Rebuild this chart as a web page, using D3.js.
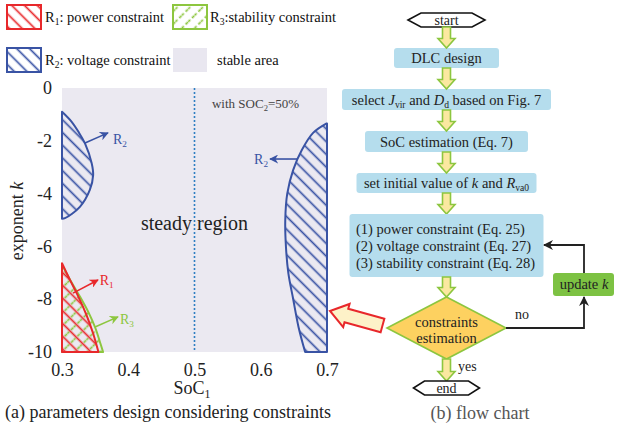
<!DOCTYPE html>
<head>
<meta charset="utf-8">
<title>Parameters design and flow chart</title>
<style>
  body { margin: 0; background: #fff; }
  text { font-family: "Liberation Serif", "Times New Roman", serif; }
</style>
<script src="https://d3js.org/d3.v7.min.js"></script>
</head>
<body>
<script>
// ---- data ----
var xTicks = [0.3, 0.4, 0.5, 0.6, 0.7];
var yTicks = [0, -2, -4, -6, -8, -10];

// region boundaries, [SoC1, k]
var r2LeftEdge = [[0.3, -0.9], [0.3146, -1.28], [0.3246, -1.65], [0.3347, -2.1], [0.3448, -2.85],
                  [0.347, -3.3], [0.342, -3.86], [0.327, -4.5], [0.3045, -4.93], [0.3, -4.95]];
var r2RightEdge = [[0.6995, -1.34], [0.679, -1.7], [0.662, -2.35], [0.649, -3.1], [0.640, -4.0],
                   [0.637, -5.0], [0.638, -6.0], [0.6416, -7.0], [0.649, -8.0], [0.657, -9.05], [0.667, -10]];
var r1Edge = [[0.3, -6.64], [0.312, -7.27], [0.3247, -7.9], [0.337, -8.6], [0.347, -9.3], [0.355, -10]];
var r3Edge = [[0.3, -6.7], [0.313, -7.3], [0.327, -7.9], [0.34, -8.5], [0.3505, -9.1], [0.357, -9.6], [0.362, -10]];

var regionNotes = [
  { name: "R", sub: "2", from: [0.3347, -2.08], to: [0.3694, -1.70], at: [0.377, -1.97], anchor: "start", color: "#3953a4" },
  { name: "R", sub: "2", from: [0.6547, -2.69], to: [0.614, -2.69], at: [0.611, -2.72], anchor: "end", color: "#3953a4" },
  { name: "R", sub: "1", from: [0.3166, -7.77], to: [0.3543, -7.27], at: [0.357, -7.31], anchor: "start", color: "#e8282b" },
  { name: "R", sub: "3", from: [0.3498, -9.05], to: [0.3845, -8.67], at: [0.3875, -8.79], anchor: "start", color: "#8dc63f" }
];

var legendLabels = [
  [["R"], ["1", "sub"], [": power constraint"]],
  [["R"], ["3", "sub"], [":stability constraint"]],
  [["R"], ["2", "sub"], [": voltage constraint"]],
  [["stable area"]]
];

var flowSteps = [
  [["DLC design"]],
  [["select "], ["J", "i"], ["vir", "sub"], [" and "], ["D", "i"], ["d", "sub"], [" based on Fig. 7"]],
  [["SoC estimation (Eq. 7)"]],
  [["set initial value of "], ["k", "i"], [" and "], ["R", "i"], ["va0", "sub"]]
];
var constraintLines = ["(1) power constraint (Eq. 25)", "(2) voltage constraint (Eq. 27)", "(3) stability constraint (Eq. 28)"];

var red = "#e8282b", blue = "#3953a4", green = "#8dc63f";

// ---- svg ----
var svg = d3.select("body").append("svg")
    .attr("width", 624).attr("height", 434)
    .attr("font-family", "Liberation Serif, serif");

var defs = svg.append("defs");

function hatch(id, color, angle, dash) {
    var p = defs.append("pattern").attr("id", id)
        .attr("patternUnits", "userSpaceOnUse")
        .attr("width", 9).attr("height", 9)
        .attr("patternTransform", "rotate(" + angle + ")");
    var l = p.append("line").attr("x1", 4.5).attr("y1", 0).attr("x2", 4.5).attr("y2", 9)
        .attr("stroke", color).attr("stroke-width", 1.7);
    if (dash) l.attr("stroke-dasharray", dash);
}
hatch("hRed", red, -45);
hatch("hBlue", blue, -45);
hatch("hGreen", green, 45, "3,2.5");

function marker(id, color, size) {
    defs.append("marker").attr("id", id)
        .attr("viewBox", "0 0 10 10").attr("refX", 9).attr("refY", 5)
        .attr("markerUnits", "userSpaceOnUse")
        .attr("markerWidth", size).attr("markerHeight", size)
        .attr("orient", "auto")
        .append("path").attr("d", "M0,0L10,5L0,10L3,5Z").attr("fill", color);
}
marker("mBlack", "#222", 10);
marker("mRed", red, 9);
marker("mBlue", blue, 9);
marker("mGreen", green, 9);

// text with italic / subscript pieces; subscript drop done with dy
function rich(t, segs) {
    var fs = +t.attr("font-size") || 14;
    var drop = Math.round(fs * 0.22 * 10) / 10, cur = 0;
    segs.forEach(function (s) {
        var ts = t.append("tspan").text(s[0]);
        var want = s[1] === "sub" ? drop : 0;
        if (want !== cur) { ts.attr("dy", want - cur); cur = want; }
        if (s[1] === "i") ts.style("font-style", "italic");
        if (s[1] === "sub") ts.attr("font-size", fs * 0.66);
    });
    return t;
}

// ---- plot (a) ----
var x = d3.scaleLinear().domain([0.3, 0.7]).range([62, 327]);
var y = d3.scaleLinear().domain([0, -10]).range([88, 352]);

var plot = svg.append("g").attr("id", "plot");

plot.append("rect")
    .attr("x", x(0.3)).attr("y", y(0))
    .attr("width", x(0.7) - x(0.3)).attr("height", y(-10) - y(0))
    .attr("fill", "#ebe9f1");

plot.append("line")
    .attr("x1", x(0.5)).attr("x2", x(0.5))
    .attr("y1", y(0)).attr("y2", y(-10))
    .attr("stroke", "#2e7fc2").attr("stroke-width", 1.6)
    .attr("stroke-dasharray", "2,2");

var edgeLine = d3.line().x(function (d) { return x(d[0]); }).y(function (d) { return y(d[1]); })
    .curve(d3.curveCatmullRom);

function closedPath(edge, corners) {
    return edgeLine(edge) + corners.map(function (c) { return "L" + x(c[0]) + "," + y(c[1]); }).join("") + "Z";
}

var regions = [
    { d: closedPath(r2LeftEdge, []), fill: "url(#hBlue)", stroke: blue },
    { d: closedPath(r2RightEdge, [[0.7, -10], [0.7, -1.34]]), fill: "url(#hBlue)", stroke: blue },
    { d: closedPath(r3Edge, [[0.3, -10]]), fill: "url(#hGreen)", stroke: green },
    { d: closedPath(r1Edge, [[0.3, -10]]), fill: "url(#hRed)", stroke: red }
];

plot.selectAll("path.region")
    .data(regions).enter()
    .append("path").attr("class", "region")
    .attr("d", function (d) { return d.d; })
    .attr("fill", function (d) { return d.fill; })
    .attr("stroke", function (d) { return d.stroke; })
    .attr("stroke-width", 2)
    .attr("stroke-linejoin", "round");

var markerFor = {};
markerFor[red] = "mRed"; markerFor[blue] = "mBlue"; markerFor[green] = "mGreen";

regionNotes.forEach(function (n) {
    plot.append("line")
        .attr("x1", x(n.from[0])).attr("y1", y(n.from[1]))
        .attr("x2", x(n.to[0])).attr("y2", y(n.to[1]))
        .attr("stroke", n.color).attr("stroke-width", 1.6)
        .attr("marker-end", "url(#" + markerFor[n.color] + ")");
    rich(plot.append("text")
        .attr("x", x(n.at[0])).attr("y", y(n.at[1]) + 4)
        .attr("text-anchor", n.anchor)
        .attr("font-size", 14).attr("fill", n.color), [[n.name], [n.sub, "sub"]]);
});

rich(plot.append("text")
    .attr("x", x(0.5264)).attr("y", y(-0.6) + 4)
    .attr("font-size", 13).attr("fill", "#444"),
    [["with SOC"], ["2", "sub"], ["=50%"]]);

plot.append("text")
    .attr("x", x(0.5)).attr("y", y(-5.1)).attr("dy", "0.35em")
    .attr("text-anchor", "middle")
    .attr("font-size", 20).attr("fill", "#222")
    .text("steady region");

// axes, labels only
var xAxis = plot.append("g")
    .attr("transform", "translate(0," + y(-10) + ")")
    .call(d3.axisBottom(x).tickValues(xTicks).tickSize(0).tickPadding(11).tickFormat(d3.format(".1f")));
var yAxis = plot.append("g")
    .attr("transform", "translate(" + x(0.3) + ",0)")
    .call(d3.axisLeft(y).tickValues(yTicks).tickSize(0).tickPadding(10).tickFormat(function (d) { return String(d); }));
[xAxis, yAxis].forEach(function (a) {
    a.select(".domain").remove();
    a.attr("font-family", null).attr("font-size", null);
    a.selectAll("text").attr("font-size", 18).attr("fill", "#222");
});

rich(svg.append("text")
    .attr("x", 192).attr("y", 394).attr("text-anchor", "middle")
    .attr("font-size", 18).attr("fill", "#222"),
    [["SoC"], ["1", "sub"]]);

rich(svg.append("text")
    .attr("transform", "translate(23,221) rotate(-90)")
    .attr("text-anchor", "middle")
    .attr("font-size", 18).attr("fill", "#222"),
    [["exponent "], ["k", "i"]]);

svg.append("text")
    .attr("x", 5).attr("y", 418)
    .attr("font-size", 18).attr("fill", "#222")
    .text("(a) parameters design considering constraints");

// ---- legend ----
var legend = svg.append("g").attr("id", "legend");
var swatches = [
    { x: 7, y: 5, fill: "url(#hRed)", stroke: red },
    { x: 173, y: 5, fill: "url(#hGreen)", stroke: green },
    { x: 7, y: 48, fill: "url(#hBlue)", stroke: blue },
    { x: 173, y: 48, fill: "#e9e7f0", stroke: "none" }
];
var legendTextX = [45, 210, 45, 217];
swatches.forEach(function (s, i) {
    legend.append("rect")
        .attr("x", s.x).attr("y", s.y).attr("width", 34).attr("height", 24)
        .attr("fill", s.fill).attr("stroke", s.stroke).attr("stroke-width", 2);
    rich(legend.append("text")
        .attr("x", legendTextX[i]).attr("y", s.y + 17)
        .attr("font-size", 14.5).attr("fill", "#111"), legendLabels[i]);
});

// ---- flow chart (b) ----
var flow = svg.append("g").attr("id", "flow");
var cx = 446.5;

function hexagon(yTop, yBot, half, inner, label) {
    var ym = (yTop + yBot) / 2;
    flow.append("polygon")
        .attr("points", [[cx - half, ym], [cx - inner, yTop], [cx + inner, yTop], [cx + half, ym], [cx + inner, yBot], [cx - inner, yBot]].join(" "))
        .attr("fill", "#fff").attr("stroke", "#111").attr("stroke-width", 1.6);
    flow.append("text").attr("x", cx).attr("y", ym + 5)
        .attr("text-anchor", "middle").attr("font-size", 14).attr("fill", "#222").text(label);
}

function downArrow(y0, y1) {
    var hw = 4, hh = 8.5, hl = 9.5;
    flow.append("polygon")
        .attr("points", [[cx - hw, y0], [cx + hw, y0], [cx + hw, y1 - hl], [cx + hh, y1 - hl], [cx, y1],
                         [cx - hh, y1 - hl], [cx - hw, y1 - hl]].join(" "))
        .attr("fill", "#fbe8a0").attr("stroke", green).attr("stroke-width", 1.6)
        .attr("stroke-linejoin", "miter");
}

function box(yTop, yBot, w, fill) {
    flow.append("rect")
        .attr("x", cx - w / 2).attr("y", yTop).attr("width", w).attr("height", yBot - yTop)
        .attr("rx", 3).attr("fill", fill || "#b5dded");
}

hexagon(13, 27, 38.5, 25.5, "start");

var stepBoxes = [[48, 68, 105], [89, 110, 209], [131, 152, 163], [173, 193, 180]];
var arrowStarts = [27, 68, 110, 152, 193];
stepBoxes.forEach(function (b, i) {
    box(b[0], b[1], b[2]);
    rich(flow.append("text")
        .attr("x", cx).attr("y", (b[0] + b[1]) / 2 + 5)
        .attr("text-anchor", "middle").attr("font-size", 14.5).attr("fill", "#222"), flowSteps[i]);
});
arrowStarts.forEach(function (s, i) {
    var end = i < stepBoxes.length ? stepBoxes[i][0] : 214;
    downArrow(s, end);
});

box(214, 277, 194);
constraintLines.forEach(function (t, i) {
    flow.append("text")
        .attr("x", 356).attr("y", 234 + i * 17)
        .attr("font-size", 14.5).attr("fill", "#222").text(t);
});

downArrow(277, 297);

// decision
flow.append("polygon")
    .attr("points", [[cx, 297], [506, 328], [cx, 359], [387, 328]].join(" "))
    .attr("fill", "#fdd160").attr("stroke", green).attr("stroke-width", 1.6);
flow.append("text").attr("x", cx).attr("y", 327)
    .attr("text-anchor", "middle").attr("font-size", 14.5).attr("fill", "#222").text("constraints");
flow.append("text").attr("x", cx).attr("y", 343)
    .attr("text-anchor", "middle").attr("font-size", 14.5).attr("fill", "#222").text("estimation");

downArrow(359, 381);
flow.append("text").attr("x", 458).attr("y", 371).attr("font-size", 14).attr("fill", "#222").text("yes");

hexagon(381, 395, 33, 22, "end");

// loop back
flow.append("path")
    .attr("d", "M506,328L584,328L584,297")
    .attr("fill", "none").attr("stroke", "#222").attr("stroke-width", 1.8)
    .attr("marker-end", "url(#mBlack)");
flow.append("text").attr("x", 522).attr("y", 319).attr("text-anchor", "middle")
    .attr("font-size", 14).attr("fill", "#222").text("no");

flow.append("rect")
    .attr("x", 553).attr("y", 273).attr("width", 61).attr("height", 23)
    .attr("rx", 3).attr("fill", "#7dc243");
rich(flow.append("text").attr("x", 584).attr("y", 289).attr("text-anchor", "middle")
    .attr("font-size", 14.5).attr("fill", "#222"), [["update "], ["k", "i"]]);

flow.append("path")
    .attr("d", "M584,273L584,245L544,245")
    .attr("fill", "none").attr("stroke", "#222").attr("stroke-width", 1.8)
    .attr("marker-end", "url(#mBlack)");

// hollow arrow pointing at plot (a)
var tail = [382.5, 325.5], tip = [330, 311];
var L = Math.hypot(tip[0] - tail[0], tip[1] - tail[1]);
var ang = Math.atan2(tip[1] - tail[1], tip[0] - tail[0]) * 180 / Math.PI;
var sw = 7, hw2 = 12, hl2 = 17;
svg.append("polygon")
    .attr("transform", "translate(" + tail + ") rotate(" + ang + ")")
    .attr("points", [[0, -sw], [L - hl2, -sw], [L - hl2, -hw2], [L, 0], [L - hl2, hw2], [L - hl2, sw], [0, sw]].join(" "))
    .attr("fill", "#fdf2c8").attr("stroke", red).attr("stroke-width", 2);

svg.append("text")
    .attr("x", 480).attr("y", 419).attr("text-anchor", "middle")
    .attr("font-size", 18).attr("fill", "#555")
    .text("(b) flow chart");
</script>
</body>
